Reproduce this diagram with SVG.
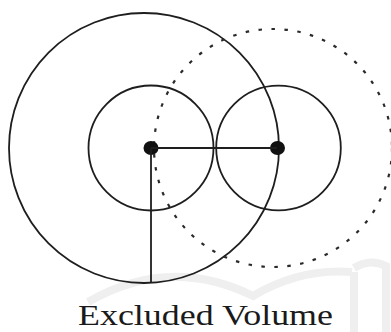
<svg xmlns="http://www.w3.org/2000/svg" width="391" height="332" viewBox="0 0 391 332">
  <style>
    .ln { fill: none; stroke: #1e1e1e; stroke-width: 1.8; }
    .dot { fill: none; stroke: #2a2a2a; stroke-width: 2.2; stroke-dasharray: 3.5 9.5; }
    .ctr { fill: #111; }
    .wm { fill: none; stroke: #efefef; stroke-width: 8; }
    .lbl { font-family: "Liberation Serif", "DejaVu Serif", serif; font-size: 29px; fill: #1a1a1a; }
  </style>
  <g id="watermark">
    <path class="wm" d="M 88 302 Q 170 255 253 296 Q 300 268 352 272 M 354 272 L 354 332 M 354 268 Q 370 258 386 266 L 386 332"/>
  </g>
  <g id="excluded-sphere">
    <ellipse class="ln" cx="144" cy="148" rx="135" ry="135"/>
  </g>
  <g id="dotted-sphere">
    <circle class="dot" cx="273" cy="148" r="119"/>
  </g>
  <g id="molecule-a">
    <circle class="ln" cx="151" cy="148" r="62.5"/>
    <ellipse class="ctr" cx="151" cy="148" rx="7.5" ry="7"/>
  </g>
  <g id="molecule-b">
    <circle class="ln" cx="278.5" cy="148" r="62.3"/>
    <ellipse class="ctr" cx="277.5" cy="148" rx="7.5" ry="7"/>
  </g>
  <g id="connectors">
    <line class="ln" x1="151" y1="148" x2="277" y2="148"/>
    <line class="ln" x1="151" y1="148" x2="151" y2="283"/>
  </g>
  <g id="label">
    <text class="lbl" x="78" y="325" textLength="255" lengthAdjust="spacingAndGlyphs">Excluded Volume</text>
  </g>
</svg>
